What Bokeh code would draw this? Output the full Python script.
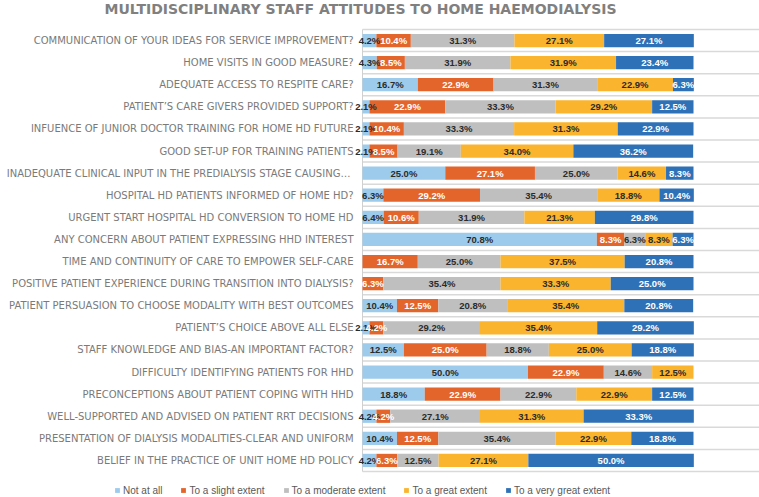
from bokeh.plotting import figure
from bokeh.models import ColumnDataSource, Range1d, Legend, LegendItem, Label
from bokeh.core.properties import value
from bokeh.embed import file_html
from bokeh.resources import INLINE

title_text = "MULTIDISCIPLINARY STAFF ATTITUDES TO HOME HAEMODIALYSIS"

questions = [
    "COMMUNICATION OF YOUR IDEAS FOR SERVICE IMPROVEMENT?",
    "HOME VISITS IN GOOD MEASURE?",
    "ADEQUATE ACCESS TO RESPITE CARE?",
    "PATIENT\u2019S CARE GIVERS PROVIDED SUPPORT?",
    "INFUENCE OF JUNIOR DOCTOR TRAINING FOR HOME HD FUTURE",
    "GOOD SET-UP FOR TRAINING PATIENTS",
    "INADEQUATE  CLINICAL INPUT IN THE PREDIALYSIS STAGE CAUSING\u2026",
    "HOSPITAL HD PATIENTS INFORMED OF HOME HD?",
    "URGENT START HOSPITAL HD CONVERSION TO HOME HD",
    "ANY CONCERN ABOUT PATIENT EXPRESSING HHD INTEREST",
    "TIME AND CONTINUITY OF CARE TO EMPOWER SELF-CARE",
    "POSITIVE PATIENT EXPERIENCE DURING TRANSITION INTO DIALYSIS?",
    "PATIENT PERSUASION TO CHOOSE MODALITY WITH BEST OUTCOMES",
    "PATIENT\u2019S CHOICE ABOVE ALL ELSE",
    "STAFF KNOWLEDGE AND BIAS-AN IMPORTANT FACTOR?",
    "DIFFICULTY IDENTIFYING PATIENTS FOR HHD",
    "PRECONCEPTIONS ABOUT PATIENT COPING WITH HHD",
    "WELL-SUPPORTED AND ADVISED ON PATIENT RRT DECISIONS",
    "PRESENTATION OF DIALYSIS MODALITIES-CLEAR AND UNIFORM",
    "BELIEF IN THE PRACTICE OF UNIT HOME HD POLICY",
]

levels = ["Not at all", "To a slight extent", "To a moderate extent",
          "To a great extent", "To a very great extent"]

not_at_all = [4.2, 4.3, 16.7, 2.1, 2.1, 2.1, 25.0, 6.3, 6.4, 70.8,
              0.0, 0.0, 10.4, 2.1, 12.5, 50.0, 18.8, 4.2, 10.4, 4.2]
slight = [10.4, 8.5, 22.9, 22.9, 10.4, 8.5, 27.1, 29.2, 10.6, 8.3,
          16.7, 6.3, 12.5, 4.2, 25.0, 22.9, 22.9, 4.2, 12.5, 6.3]
moderate = [31.3, 31.9, 31.3, 33.3, 33.3, 19.1, 25.0, 35.4, 31.9, 6.3,
            25.0, 35.4, 20.8, 29.2, 18.8, 14.6, 22.9, 27.1, 35.4, 12.5]
great = [27.1, 31.9, 22.9, 29.2, 31.3, 34.0, 14.6, 18.8, 21.3, 8.3,
         37.5, 33.3, 35.4, 35.4, 25.0, 12.5, 22.9, 31.3, 22.9, 27.1]
very_great = [27.1, 23.4, 6.3, 12.5, 22.9, 36.2, 8.3, 10.4, 29.8, 6.3,
              20.8, 25.0, 20.8, 29.2, 18.8, 0.0, 12.5, 33.3, 18.8, 50.0]

series = [not_at_all, slight, moderate, great, very_great]
colors = ["#9DCBEC", "#E4652B", "#BFBFBF", "#FBB42D", "#2F71B6"]
label_colors = ["#2B2B2B", "#FFFFFF", "#2B2B2B", "#2B2B2B", "#FFFFFF"]

n = len(questions)
ypos = list(range(n))
keys = ["s%d" % k for k in range(len(levels))]
data = {"y": ypos}
for k, s in zip(keys, series):
    data[k] = s
src = ColumnDataSource(data)

XMIN, XMAX = -109.37, 119.94
p = figure(width=759, height=497,
           x_range=Range1d(XMIN, XMAX), y_range=Range1d(20.677, -1.812),
           output_backend="svg", toolbar_location=None, min_border=0)
p.axis.visible = False
p.grid.visible = False
p.outline_line_color = None
p.background_fill_color = "white"
p.border_fill_color = "white"

# separators between rows and left axis line
bounds = [i - 0.5 for i in range(n + 1)]
p.segment(x0=[0] * len(bounds), x1=[XMAX] * len(bounds), y0=bounds, y1=bounds,
          line_color="#D9D9D9", line_width=1.5)
p.segment(x0=[0], x1=[0], y0=[bounds[0]], y1=[bounds[-1]],
          line_color="#D0D0D0", line_width=1)

renderers = p.hbar_stack(keys, y="y", height=0.6, color=colors, source=src,
                         line_color=None)

# value labels
lx, ly, lt, lc = [], [], [], []
for i in range(n):
    left = 0.0
    for k, s in enumerate(series):
        v = s[i]
        if v > 0:
            lx.append(left + v / 2.0)
            ly.append(i)
            lt.append("%.1f%%" % v)
            lc.append(label_colors[k])
        left += v
p.text(x=lx, y=ly, text=lt, text_color=lc, text_align="center",
       text_baseline="middle", text_font=value("Liberation Sans"),
       text_font_style="bold", text_font_size="9.5px")

# category labels
p.text(x=[-2.7] * n, y=ypos, text=questions, text_align="right",
       text_baseline="middle", text_font=value("DejaVu Sans"),
       text_font_size="10px", text_color="#7A7A7A")

# title
p.add_layout(Label(x=360, y=489, x_units="screen", y_units="screen",
                   text=title_text, text_align="center", text_baseline="middle",
                   text_font="DejaVu Sans", text_font_style="bold",
                   text_font_size="14px", text_color="#808080"))

legend = Legend(items=[LegendItem(label=l, renderers=[r]) for l, r in zip(levels, renderers)],
                orientation="horizontal", location=(114, 0),
                glyph_width=6, glyph_height=6, label_standoff=3, spacing=18,
                padding=0, margin=0, border_line_color=None,
                background_fill_alpha=0, label_text_font="Liberation Sans",
                label_text_font_size="10px", label_text_color="#595959",
                label_height=14)
p.add_layout(legend)

open("out.html", "w").write(file_html(p, INLINE))
